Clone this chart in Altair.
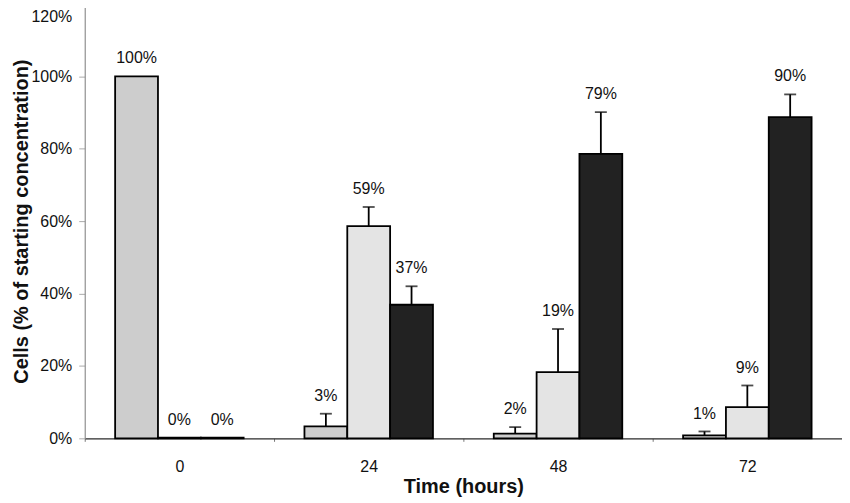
import altair as alt
import pandas as pd

times = ["0", "24", "48", "72"]
series = ["Series 1", "Series 2", "Series 3"]
values = [
    [100.0, 0.2, 0.2],
    [3.3, 58.6, 36.9],
    [1.3, 18.3, 78.6],
    [0.8, 8.6, 88.7],
]
err_top = [
    [100.0, 0.2, 0.2],
    [6.8, 63.9, 42.0],
    [3.1, 30.2, 90.1],
    [1.9, 14.6, 95.0],
]
labels = [
    ["100%", "0%", "0%"],
    ["3%", "59%", "37%"],
    ["2%", "19%", "79%"],
    ["1%", "9%", "90%"],
]
colors = ["#cdcdcd", "#e4e4e4", "#222222"]

rows = []
for i, t in enumerate(times):
    for j, s in enumerate(series):
        rows.append({"time": t, "series": s, "value": values[i][j],
                     "err": err_top[i][j], "label": labels[i][j]})
df = pd.DataFrame(rows)

FONT = "Liberation Sans"

x = alt.X("time:N", sort=times, title="Time (hours)",
          scale=alt.Scale(paddingInner=0, paddingOuter=0),
          axis=alt.Axis(labelAngle=0, tickBand="extent", domainColor="#333333",
                        domainWidth=1.2, tickColor="#777777", tickSize=3,
                        labelFontSize=16, labelPadding=17, titleFontSize=20,
                        titleFontWeight="bold", titlePadding=2,
                        labelFont=FONT, titleFont=FONT,
                        labelColor="#111111", titleColor="#111111"))
xo = alt.XOffset("series:N", sort=series,
                 scale=alt.Scale(paddingInner=0, paddingOuter=0.71))

base = alt.Chart(df)

bars = base.mark_bar(stroke="#000000", strokeWidth=1.8).encode(
    x=x,
    xOffset=xo,
    y=alt.Y("value:Q", title="Cells (% of starting concentration)",
            scale=alt.Scale(domain=[0, 120], nice=False),
            axis=alt.Axis(values=[0, 20, 40, 60, 80, 100, 120],
                          labelExpr="datum.value + '%'", grid=False,
                          domainColor="#888888", tickColor="#aaaaaa", tickSize=6,
                          labelFontSize=16, labelPadding=7,
                          labelOffset={"condition": {"test": "datum.value == 120",
                                                     "value": 13},
                                       "value": 0},
                          titleFontSize=20, titleFontWeight="bold",
                          titlePadding=0, labelFont=FONT, titleFont=FONT,
                          labelColor="#111111", titleColor="#111111")),
    color=alt.Color("series:N", sort=series,
                    scale=alt.Scale(domain=series, range=colors), legend=None),
)

stems = base.transform_filter("datum.err > datum.value").mark_rule(
    color="#000000", strokeWidth=1.8).encode(
    x=x, xOffset=xo, y="value:Q", y2="err:Q")

caps = base.transform_filter("datum.err > datum.value").mark_tick(
    color="#000000", thickness=1.8, size=12).encode(
    x=x, xOffset=xo, y="err:Q")

texts = base.mark_text(baseline="alphabetic", dy=-13, fontSize=16, font=FONT,
                       color="#111111").encode(
    x=x, xOffset=xo, y="err:Q", text="label:N")

chart = alt.layer(bars, stems, caps, texts).properties(
    width=760, height=436,
    autosize=alt.AutoSizeParams(type="none"),
    padding={"left": 77, "top": -5, "right": 0, "bottom": 60},
).configure_view(stroke=None).configure(background="#ffffff")

chart.save("out.html", embed_options={"renderer": "svg", "actions": False})
